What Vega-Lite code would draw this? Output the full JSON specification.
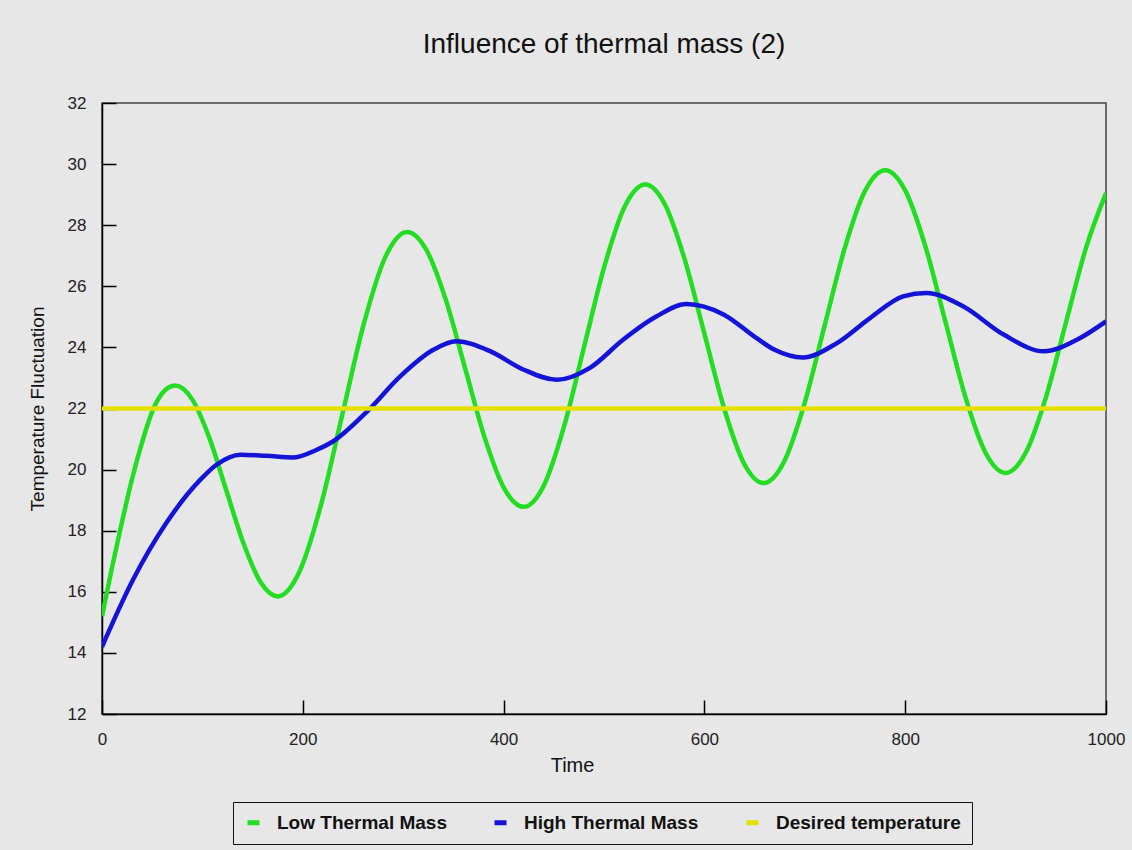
{
  "$schema": "https://vega.github.io/schema/vega-lite/v6.json",
  "width": 1004,
  "height": 611,
  "autosize": {"type": "none"},
  "padding": {"left": 102, "top": 103, "right": 26, "bottom": 136},
  "background": "#e7e7e7",
  "title": {
    "text": "Influence of thermal mass (2)",
    "font": "Liberation Sans",
    "fontSize": 28,
    "fontWeight": "normal",
    "color": "#111111",
    "anchor": "middle",
    "offset": 13,
    "baseline": "alphabetic"
  },
  "config": {
    "view": {"stroke": "#444444", "strokeWidth": 1.5}
  },
  "data": {
    "values": [
      {"s": "Low Thermal Mass", "t": 0, "v": 15.2},
      {"s": "Low Thermal Mass", "t": 10, "v": 16.8},
      {"s": "Low Thermal Mass", "t": 20, "v": 18.3},
      {"s": "Low Thermal Mass", "t": 30, "v": 19.7},
      {"s": "Low Thermal Mass", "t": 40, "v": 20.9},
      {"s": "Low Thermal Mass", "t": 50, "v": 21.9},
      {"s": "Low Thermal Mass", "t": 60, "v": 22.5},
      {"s": "Low Thermal Mass", "t": 73, "v": 22.75},
      {"s": "Low Thermal Mass", "t": 90, "v": 22.29},
      {"s": "Low Thermal Mass", "t": 107, "v": 21.03},
      {"s": "Low Thermal Mass", "t": 124, "v": 19.3},
      {"s": "Low Thermal Mass", "t": 141, "v": 17.58},
      {"s": "Low Thermal Mass", "t": 158, "v": 16.31},
      {"s": "Low Thermal Mass", "t": 175, "v": 15.85},
      {"s": "Low Thermal Mass", "t": 196.5, "v": 16.65},
      {"s": "Low Thermal Mass", "t": 218, "v": 18.83},
      {"s": "Low Thermal Mass", "t": 239.5, "v": 21.82},
      {"s": "Low Thermal Mass", "t": 261, "v": 24.8},
      {"s": "Low Thermal Mass", "t": 282.5, "v": 26.98},
      {"s": "Low Thermal Mass", "t": 304, "v": 27.78},
      {"s": "Low Thermal Mass", "t": 323.3, "v": 27.18},
      {"s": "Low Thermal Mass", "t": 342.7, "v": 25.53},
      {"s": "Low Thermal Mass", "t": 362, "v": 23.28},
      {"s": "Low Thermal Mass", "t": 381.3, "v": 21.03},
      {"s": "Low Thermal Mass", "t": 400.7, "v": 19.38},
      {"s": "Low Thermal Mass", "t": 420, "v": 18.78},
      {"s": "Low Thermal Mass", "t": 440.2, "v": 19.49},
      {"s": "Low Thermal Mass", "t": 460.3, "v": 21.42},
      {"s": "Low Thermal Mass", "t": 480.5, "v": 24.06},
      {"s": "Low Thermal Mass", "t": 500.7, "v": 26.69},
      {"s": "Low Thermal Mass", "t": 520.8, "v": 28.62},
      {"s": "Low Thermal Mass", "t": 541, "v": 29.33},
      {"s": "Low Thermal Mass", "t": 560.7, "v": 28.68},
      {"s": "Low Thermal Mass", "t": 580.3, "v": 26.89},
      {"s": "Low Thermal Mass", "t": 600, "v": 24.45},
      {"s": "Low Thermal Mass", "t": 619.7, "v": 22.0},
      {"s": "Low Thermal Mass", "t": 639.3, "v": 20.21},
      {"s": "Low Thermal Mass", "t": 659, "v": 19.56},
      {"s": "Low Thermal Mass", "t": 679.2, "v": 20.25},
      {"s": "Low Thermal Mass", "t": 699.3, "v": 22.12},
      {"s": "Low Thermal Mass", "t": 719.5, "v": 24.68},
      {"s": "Low Thermal Mass", "t": 739.7, "v": 27.24},
      {"s": "Low Thermal Mass", "t": 759.8, "v": 29.11},
      {"s": "Low Thermal Mass", "t": 780, "v": 29.8},
      {"s": "Low Thermal Mass", "t": 800, "v": 29.14},
      {"s": "Low Thermal Mass", "t": 820, "v": 27.32},
      {"s": "Low Thermal Mass", "t": 840, "v": 24.85},
      {"s": "Low Thermal Mass", "t": 860, "v": 22.37},
      {"s": "Low Thermal Mass", "t": 880, "v": 20.55},
      {"s": "Low Thermal Mass", "t": 900, "v": 19.89},
      {"s": "Low Thermal Mass", "t": 920, "v": 20.55},
      {"s": "Low Thermal Mass", "t": 940, "v": 22.35},
      {"s": "Low Thermal Mass", "t": 960, "v": 24.8},
      {"s": "Low Thermal Mass", "t": 980, "v": 27.25},
      {"s": "Low Thermal Mass", "t": 1000, "v": 29.05},
      {"s": "High Thermal Mass", "t": 0, "v": 14.2},
      {"s": "High Thermal Mass", "t": 31, "v": 16.4},
      {"s": "High Thermal Mass", "t": 64, "v": 18.25},
      {"s": "High Thermal Mass", "t": 98, "v": 19.67},
      {"s": "High Thermal Mass", "t": 114, "v": 20.16},
      {"s": "High Thermal Mass", "t": 138, "v": 20.49},
      {"s": "High Thermal Mass", "t": 164, "v": 20.45},
      {"s": "High Thermal Mass", "t": 191, "v": 20.4},
      {"s": "High Thermal Mass", "t": 214, "v": 20.65},
      {"s": "High Thermal Mass", "t": 230, "v": 20.92},
      {"s": "High Thermal Mass", "t": 264, "v": 21.9},
      {"s": "High Thermal Mass", "t": 297, "v": 23.05},
      {"s": "High Thermal Mass", "t": 330, "v": 23.92},
      {"s": "High Thermal Mass", "t": 353, "v": 24.2},
      {"s": "High Thermal Mass", "t": 387, "v": 23.87},
      {"s": "High Thermal Mass", "t": 420, "v": 23.27},
      {"s": "High Thermal Mass", "t": 453, "v": 22.94},
      {"s": "High Thermal Mass", "t": 486, "v": 23.33},
      {"s": "High Thermal Mass", "t": 519, "v": 24.25},
      {"s": "High Thermal Mass", "t": 552, "v": 25.01},
      {"s": "High Thermal Mass", "t": 582, "v": 25.42},
      {"s": "High Thermal Mass", "t": 619, "v": 25.08},
      {"s": "High Thermal Mass", "t": 652, "v": 24.3},
      {"s": "High Thermal Mass", "t": 670, "v": 23.92},
      {"s": "High Thermal Mass", "t": 698, "v": 23.67},
      {"s": "High Thermal Mass", "t": 732, "v": 24.14},
      {"s": "High Thermal Mass", "t": 765, "v": 24.96},
      {"s": "High Thermal Mass", "t": 798, "v": 25.67},
      {"s": "High Thermal Mass", "t": 821, "v": 25.78},
      {"s": "High Thermal Mass", "t": 858, "v": 25.34},
      {"s": "High Thermal Mass", "t": 898, "v": 24.42},
      {"s": "High Thermal Mass", "t": 938, "v": 23.87},
      {"s": "High Thermal Mass", "t": 971, "v": 24.25},
      {"s": "High Thermal Mass", "t": 1000, "v": 24.85},
      {"s": "Desired temperature", "t": 0, "v": 22},
      {"s": "Desired temperature", "t": 1000, "v": 22}
    ]
  },
  "mark": {"type": "line", "strokeWidth": 4.5, "interpolate": "monotone", "clip": true},
  "encoding": {
    "x": {
      "field": "t",
      "type": "quantitative",
      "scale": {"domain": [0, 1000], "nice": false, "zero": false},
      "axis": {
        "values": [0, 200, 400, 600, 800, 1000],
        "format": "d",
        "title": "Time",
        "grid": false,
        "domainColor": "#000000",
        "domainWidth": 1.5,
        "tickColor": "#000000",
        "tickWidth": 1.5,
        "tickSize": -14,
        "labelFont": "Liberation Sans",
        "labelFontSize": 17,
        "labelColor": "#222222",
        "labelPadding": 31,
        "labelFlush": false,
        "titleFont": "Liberation Sans",
        "titleFontSize": 20,
        "titleFontWeight": "normal",
        "titleColor": "#111111",
        "titleX": 470,
        "titlePadding": 8
      }
    },
    "y": {
      "field": "v",
      "type": "quantitative",
      "scale": {"domain": [12, 32], "nice": false, "zero": false},
      "axis": {
        "values": [12, 14, 16, 18, 20, 22, 24, 26, 28, 30, 32],
        "title": "Temperature Fluctuation",
        "grid": false,
        "domainColor": "#000000",
        "domainWidth": 1.5,
        "tickColor": "#000000",
        "tickWidth": 1.5,
        "tickSize": -14,
        "labelFont": "Liberation Sans",
        "labelFontSize": 17,
        "labelColor": "#222222",
        "labelPadding": 30,
        "labelFlush": false,
        "titleFont": "Liberation Sans",
        "titleFontSize": 19,
        "titleFontWeight": "normal",
        "titleColor": "#111111",
        "titlePadding": 20
      }
    },
    "color": {
      "field": "s",
      "type": "nominal",
      "sort": ["Low Thermal Mass", "High Thermal Mass", "Desired temperature"],
      "scale": {
        "domain": ["Low Thermal Mass", "High Thermal Mass", "Desired temperature"],
        "range": ["#22dd22", "#1414d8", "#e6e000"]
      },
      "legend": {
        "title": null,
        "orient": "none",
        "direction": "horizontal",
        "legendX": 131,
        "legendY": 699,
        "padding": 11,
        "strokeColor": "#111111",
        "fillColor": "#e7e7e7",
        "symbolType": "stroke",
        "symbolSize": 144,
        "symbolStrokeWidth": 5,
        "symbolOpacity": 1,
        "labelFont": "Liberation Sans",
        "labelFontSize": 19,
        "labelFontWeight": "bold",
        "labelColor": "#111111",
        "labelOffset": 14,
        "columnPadding": 37,
        "labelLimit": 400
      }
    }
  }
}
